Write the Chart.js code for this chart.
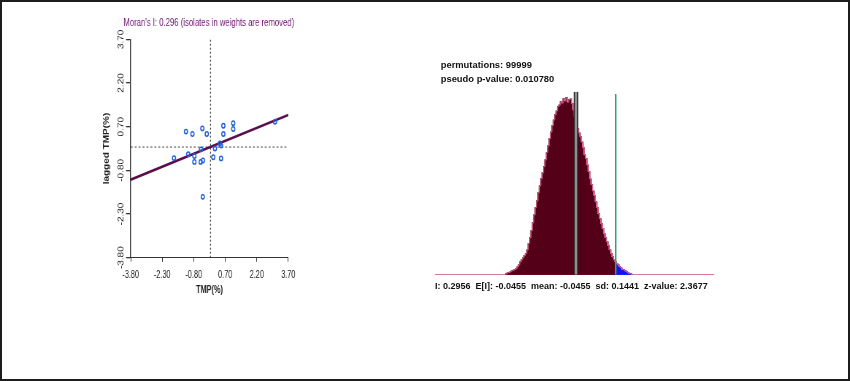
<!DOCTYPE html>
<html><head><meta charset="utf-8">
<script src="https://cdn.jsdelivr.net/npm/chart.js@4.4.1/dist/chart.umd.min.js"></script>
<style>
html,body{margin:0;padding:0;background:#fff;}
#page{position:relative;width:850px;height:381px;overflow:hidden;background:#fff;}
#leftWrap{position:absolute;left:0;top:0;width:580px;height:381px;transform:scaleX(0.73);transform-origin:0 0;}
#rightWrap{position:absolute;left:420px;top:0;width:430px;height:381px;}
#frame{position:absolute;left:0;top:0;width:850px;height:381px;box-sizing:border-box;border:2px solid #1c1c1c;pointer-events:none;}
</style></head><body>
<div id="page">
  <div id="leftWrap"><canvas id="scatter"></canvas></div>
  <div id="rightWrap"><canvas id="hist"></canvas></div>
  <div id="frame"></div>
</div>
<script>
// ---------- Moran scatter data ----------
const moranTitle = "Moran's I: 0.296 (isolates in weights are removed)";
const xAxisTitle = 'TMP(%)';
const yAxisTitle = 'lagged TMP(%)';
const tmpValues = [-1.17,-0.86,-0.39,-0.18,0.61,1.08,1.08,0.61,3.07,0.45,0.50,0.21,-0.45,-1.06,-0.77,-1.74,-0.77,-0.47,-0.36,0.13,0.50,-0.37];
const laggedTmpValues = [0.53,0.45,0.64,0.45,0.73,0.82,0.62,0.45,0.87,0.12,0.05,-0.05,-0.08,-0.25,-0.31,-0.38,-0.51,-0.51,-0.46,-0.35,-0.39,-1.71];
const axisTickValues = [-3.8,-2.3,-0.8,0.7,2.2,3.7];
const axisTickLabels = ['-3.80','-2.30','-0.80','0.70','2.20','3.70'];
const regressionX = [-3.8, 3.7];
const regressionY = [-1.12, 1.10];
const meanLineX = [0, 0];
const meanLineY = [0, 0];

// ---------- permutation histogram data ----------
const permText = 'permutations: 99999';
const pseudoPText = 'pseudo p-value: 0.010780';
const statParts = ['I: 0.2956','E[I]: -0.0455','mean: -0.0455','sd: 0.1441','z-value: 2.3677'];
const observedI = 0.2956;
const meanI = -0.0455;
const binWidth = 0.012;
const binCenters = [-0.642,-0.630,-0.618,-0.606,-0.594,-0.582,-0.570,-0.558,-0.546,-0.534,
 -0.522,-0.510,-0.498,-0.486,-0.474,-0.462,-0.450,-0.438,-0.426,-0.414,
 -0.402,-0.390,-0.378,-0.366,-0.354,-0.342,-0.330,-0.318,-0.306,-0.294,
 -0.282,-0.270,-0.258,-0.246,-0.234,-0.222,-0.210,-0.198,-0.186,-0.174,
 -0.162,-0.150,-0.138,-0.126,-0.114,-0.102,-0.090,-0.078,-0.066,-0.054,
 -0.042,-0.030,-0.018,-0.006,0.006,0.018,0.030,0.042,0.054,0.066,
 0.078,0.090,0.102,0.114,0.126,0.138,0.150,0.162,0.174,0.186,
 0.198,0.210,0.222,0.234,0.246,0.258,0.270,0.282,0.294,0.306,
 0.318,0.330,0.342,0.354,0.366,0.378,0.390,0.402,0.414,0.426];
const binCounts = [19,36,41,55,74,82,97,112,150,188,
 245,283,321,365,402,470,592,700,838,985,
 1138,1276,1402,1561,1688,1826,1935,2056,2183,2320,
 2448,2590,2711,2835,2941,3043,3112,3195,3226,3290,
 3262,3348,3302,3367,3281,3330,3340,3252,3131,3005,
 2846,2778,2694,2626,2522,2418,2276,2208,2086,1961,
 1820,1713,1592,1505,1384,1276,1155,1068,965,877,
 776,706,624,553,471,402,339,288,244,212,
 187,154,131,98,92,74,58,39,21,17];
const histXRange = [-1.257, 1.14];
const histYMax = 3480;
const observedLineTop = 3436;

const FAMILY = '"Liberation Sans", Arial, sans-serif';

// ---------- left: Moran scatter ----------
const scatterTextPlugin = {
  id: 'scatterText',
  afterDraw(chart) {
    const ys = chart.scales.y;
    const ctx = chart.ctx;
    const area = chart.chartArea;
    ctx.save();
    // chart title, centred over the plot area
    ctx.font = '10.6px ' + FAMILY;
    ctx.fillStyle = '#6e1470';
    ctx.textAlign = 'center';
    ctx.textBaseline = 'middle';
    ctx.fillText(moranTitle, (area.left + area.right) / 2 - 1, 22.8);
    // rotated y tick labels
    const x0 = area.left - 13.2;
    ctx.font = '10px ' + FAMILY;
    ctx.fillStyle = '#1a1a1a';
    axisTickValues.forEach((v, i) => {
      const py = ys.getPixelForValue(v);
      ctx.save();
      ctx.translate(x0, py);
      ctx.rotate(-Math.PI / 2);
      ctx.fillText(axisTickLabels[i], 0, 0);
      ctx.restore();
    });
    ctx.restore();
  }
};

new Chart(document.getElementById('scatter'), {
  type: 'scatter',
  data: {
    datasets: [
      { label: 'TMP vs lagged TMP', data: tmpValues.map((x, i) => ({x: x, y: laggedTmpValues[i]})),
        pointRadius: 2.2, pointBorderWidth: 1.5, borderColor: '#1f5fdc', backgroundColor: 'rgba(255,255,255,0)', order: 0 },
      { type: 'line', label: 'regression', data: regressionX.map((x, i) => ({x: x, y: regressionY[i]})),
        borderColor: '#5a0f4c', borderWidth: 2.6, pointRadius: 0, order: 1 },
      { type: 'line', label: 'mean x', data: [{x: meanLineX[0], y: -3.8}, {x: meanLineX[1], y: 3.7}],
        borderColor: '#444', borderWidth: 1.3, borderDash: [2, 2], pointRadius: 0, order: 2 },
      { type: 'line', label: 'mean y', data: [{x: -3.8, y: meanLineY[0]}, {x: 3.7, y: meanLineY[1]}],
        borderColor: '#444', borderWidth: 1, borderDash: [2.7, 2.7], pointRadius: 0, order: 2 }
    ]
  },
  options: {
    responsive: true, maintainAspectRatio: false, animation: false,
    layout: { padding: { left: 139, right: 185.1, top: 39.3, bottom: 83.3 } },
    plugins: {
      legend: { display: false }, tooltip: { enabled: false }, title: { display: false }
    },
    scales: {
      x: { type: 'linear', min: -3.8, max: 3.7,
           afterBuildTicks: s => { s.ticks = axisTickValues.map(v => ({value: v})); },
           afterFit: s => { s.height = 40; },
           grid: { display: true, drawOnChartArea: false, drawTicks: true, tickLength: 4, color: '#333', lineWidth: 1 },
           border: { display: true, color: '#333', width: 1 },
           ticks: { autoSkip: false, minRotation: 0, maxRotation: 0, padding: 8, color: '#1a1a1a',
                    font: { family: FAMILY, size: 10 }, callback: (v, i) => axisTickLabels[i] },
           title: { display: true, text: xAxisTitle, color: '#222', font: { family: FAMILY, size: 10, weight: 'bold' },
                    padding: { top: 0, bottom: 1 } } },
      y: { type: 'linear', min: -3.8, max: 3.7,
           afterBuildTicks: s => { s.ticks = axisTickValues.map(v => ({value: v})); },
           afterFit: s => { s.width = 40; },
           grid: { display: true, drawOnChartArea: false, drawTicks: true, tickLength: 6.4, color: '#333', lineWidth: 1.3 },
           border: { display: true, color: '#333', width: 1.4 },
           ticks: { display: false },
           title: { display: true, text: yAxisTitle, color: '#222', font: { family: FAMILY, size: 10, weight: 'bold' },
                    padding: { top: 1.2, bottom: 0 } } }
    }
  },
  plugins: [scatterTextPlugin]
});

// ---------- right: permutation histogram ----------
const histTextPlugin = {
  id: 'histText',
  afterDraw(chart) {
    const ctx = chart.ctx;
    ctx.save();
    ctx.fillStyle = '#111';
    ctx.textAlign = 'left';
    ctx.textBaseline = 'middle';
    ctx.font = 'bold 9.4px ' + FAMILY;
    ctx.fillText(permText, 20.7, 65);
    ctx.fillText(pseudoPText, 20.7, 79);
    ctx.font = 'bold 9px ' + FAMILY;
    ctx.fillText(statParts.join('  '), 15, 287);
    ctx.restore();
  }
};

// outline of the histogram (top edges of the bins)
const outline = [{x: binCenters[0] - binWidth / 2, y: 0}];
binCenters.forEach((c, i) => {
  outline.push({x: c - binWidth / 2, y: binCounts[i]});
  outline.push({x: c + binWidth / 2, y: binCounts[i]});
});
outline.push({x: binCenters[binCenters.length - 1] + binWidth / 2, y: 0});

new Chart(document.getElementById('hist'), {
  type: 'bar',
  data: {
    datasets: [
      { type: 'line', label: 'mean edge', data: [{x: meanI, y: 0}, {x: meanI, y: histYMax}],
        borderColor: '#222', borderWidth: 4.5, pointRadius: 0, order: 1 },
      { type: 'line', label: 'mean', data: [{x: meanI, y: 0}, {x: meanI, y: histYMax}],
        borderColor: '#8e8e8e', borderWidth: 2.5, pointRadius: 0, order: 0 },
      { type: 'line', label: 'observed I', data: [{x: observedI, y: 0}, {x: observedI, y: observedLineTop}],
        borderColor: '#3aa070', borderWidth: 1.5, pointRadius: 0, order: 0 },
      { type: 'line', label: 'outline', data: outline,
        borderColor: 'rgba(214,96,140,0.9)', borderWidth: 1, pointRadius: 0, order: 1.5 },
      { type: 'line', label: 'baseline', data: [{x: histXRange[0], y: 0}, {x: histXRange[1], y: 0}],
        borderColor: '#c84a7a', borderWidth: 1.5, pointRadius: 0, order: 3 },
      { type: 'bar', label: 'permutations', data: binCenters.map((c, i) => ({x: c, y: binCounts[i]})),
        backgroundColor: binCenters.map(c => c > observedI ? '#1414f0' : '#55001a'),
        borderWidth: 0, inflateAmount: 0.6,
        barPercentage: 1, categoryPercentage: 1, order: 2 }
    ]
  },
  options: {
    responsive: true, maintainAspectRatio: false, animation: false,
    layout: { padding: { left: 15, right: 136, top: 91.7, bottom: 106.3 } },
    plugins: { legend: { display: false }, tooltip: { enabled: false }, title: { display: false } },
    scales: {
      x: { type: 'linear', display: false, offset: false, min: histXRange[0], max: histXRange[1], grid: { offset: false } },
      y: { type: 'linear', display: false, min: 0, max: histYMax }
    }
  },
  plugins: [histTextPlugin]
});
</script>
</body></html>
